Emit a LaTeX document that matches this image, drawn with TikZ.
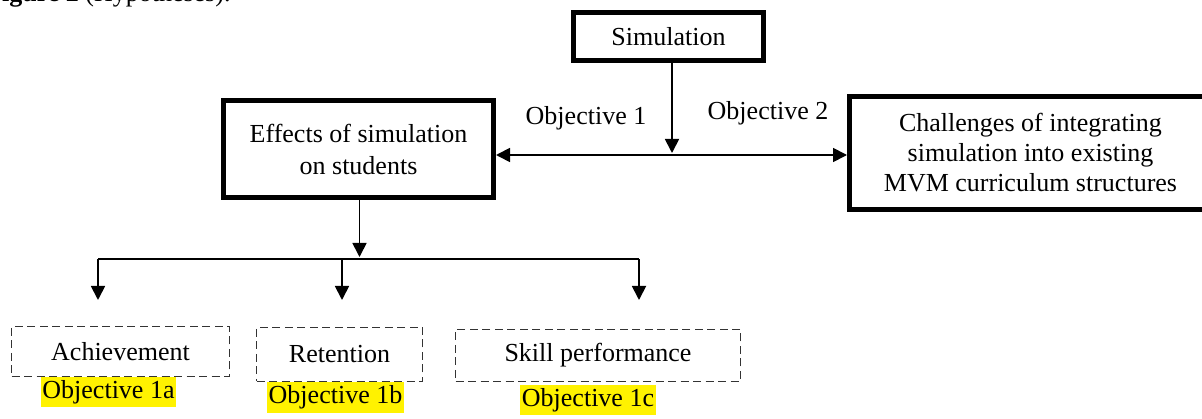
\documentclass[tikz,border=0pt]{standalone}
\usepackage{fontspec}
\setmainfont{Liberation Serif}
\usetikzlibrary{arrows.meta}
\begin{document}
\begin{tikzpicture}[x=1pt,y=-1pt,
  every node/.style={font=\fontsize{26}{30}\selectfont, inner sep=0pt},
  thickbox/.style={draw=black, line width=5pt, align=center},
  dashbox/.style={draw=black!80, line width=1.5pt, dash pattern=on 8pt off 4.5pt},
  hilite/.style={fill=yellow},
  conn/.style={draw=black, line width=1.8pt},
  arr/.style={conn, -{Triangle[length=14pt,width=14pt]}},
  arrboth/.style={conn, {Triangle[length=14pt,width=14pt]}-{Triangle[length=14pt,width=14pt]}},
  lbl/.style={anchor=base}
]
\useasboundingbox (0,0) rectangle (1202,419);

% clipped caption line at the top
\node[anchor=base west] (fig) at (-14,1.5) {\textbf{Figure 2} (Hypotheses).};

% main boxes
\node[thickbox, minimum width=190pt, minimum height=48pt, text depth=1pt] (sim) at (668.5,36.5) {Simulation};
\node[thickbox, minimum width=270pt, minimum height=97pt, font=\fontsize{26}{32}\selectfont] (eff) at (358.5,149) {Effects of simulation\\on students};
\node[thickbox, minimum width=362pt, minimum height=113pt] (chal) at (1030.5,153) {Challenges of integrating\\simulation into existing\\MVM curriculum structures};

% objective labels
\node[lbl] (ob1) at (586,125) {Objective 1};
\node[lbl] (ob2) at (768,120) {Objective 2};

% dashed outcome boxes
\node[dashbox, minimum width=218pt, minimum height=50pt] (ach) at (120.5,351.5) {Achievement};
\node[dashbox, minimum width=166pt, minimum height=54pt] (ret) at (339.5,354.5) {Retention};
\node[dashbox, minimum width=285pt, minimum height=52pt] (skl) at (598,355.5) {Skill performance};

% highlighted objective tags
\node[hilite, minimum width=135pt, minimum height=30pt] (o1a) at (108.5,392) {Objective 1a};
\node[hilite, minimum width=137pt, minimum height=31pt] (o1b) at (335.5,397.5) {Objective 1b};
\node[hilite, minimum width=136pt, minimum height=30pt] (o1c) at (588,400) {Objective 1c};

% junction coordinates
\coordinate (j1) at (672,155);
\coordinate (j1tip) at (672,153);
\coordinate (j2) at (359.5,259);
\coordinate (j2tip) at (359.5,257);
\coordinate (t1) at (98,259);
\coordinate (t2) at (342,259);
\coordinate (t3) at (639,259);
\coordinate (b1) at (98,300);
\coordinate (b2) at (342,300);
\coordinate (b3) at (639,300);

% connectors
\draw[arr] (sim.south -| j1) -- (j1tip);
\draw[arrboth] (eff.east |- j1) -- (chal.west |- j1);
\draw[arr] (eff.south -| j2) -- (j2tip);
\draw[conn] (t1) -- (t3);
\draw[arr] (t1) -- (b1);
\draw[arr] (t2) -- (b2);
\draw[arr] (t3) -- (b3);
\end{tikzpicture}
\end{document}
